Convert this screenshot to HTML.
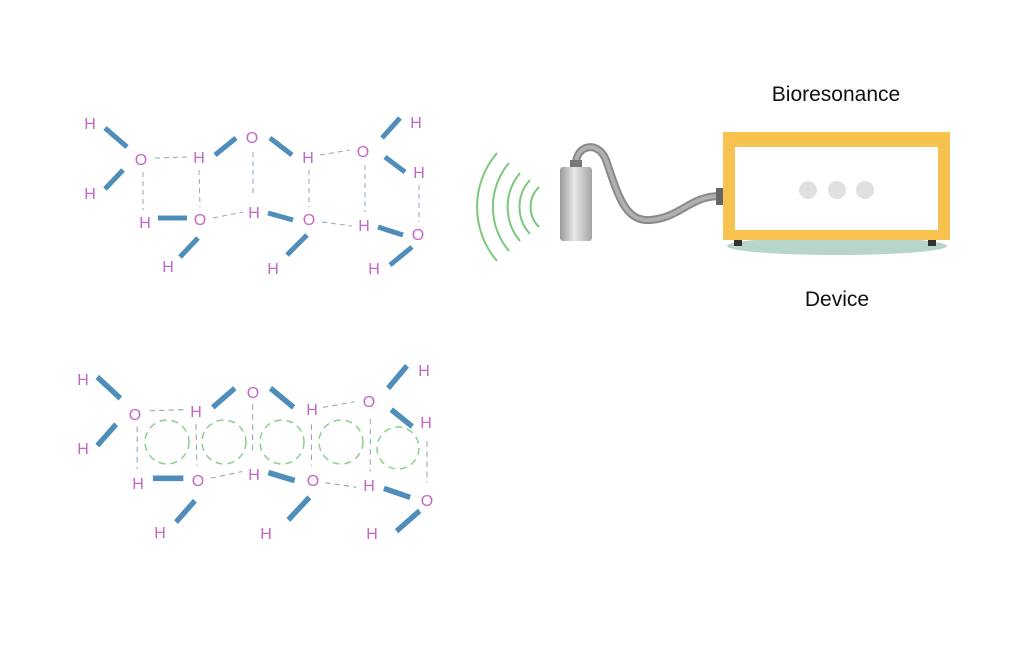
<!DOCTYPE html>
<html><head><meta charset="utf-8"><style>
html,body{margin:0;padding:0;background:#fff;width:1024px;height:672px;overflow:hidden}
svg text{font-family:"Liberation Sans","DejaVu Sans",sans-serif}
.at{fill:#c468c8;font-size:16px;text-anchor:middle}
.b{stroke:#4f8dbb;stroke-width:5;stroke-linecap:butt}
.d{stroke:#8fa8bf;stroke-width:1;stroke-dasharray:5,4;fill:none}
.w{stroke:#7cc77c;stroke-width:2;fill:none}
.c{stroke:#8fcf8f;stroke-width:1.5;stroke-dasharray:7,5;fill:none}
</style></head><body>
<svg width="1024" height="672" viewBox="0 0 1024 672" xmlns="http://www.w3.org/2000/svg">
<defs>
<g id="mol">
<g class="b">
<line x1="105" y1="128" x2="127" y2="147"/>
<line x1="123" y1="170" x2="105" y2="189"/>
<line x1="215" y1="155" x2="236" y2="138"/>
<line x1="270" y1="138" x2="292" y2="155"/>
<line x1="382" y1="138" x2="400" y2="118"/>
<line x1="385" y1="157" x2="405" y2="172"/>
<line x1="158" y1="218" x2="187" y2="218"/>
<line x1="198" y1="238" x2="180" y2="257"/>
<line x1="268" y1="213" x2="293" y2="220"/>
<line x1="307" y1="235" x2="287" y2="255"/>
<line x1="378" y1="227" x2="403" y2="235"/>
<line x1="412" y1="247" x2="390" y2="265"/>
</g>
<g class="d">
<line x1="155" y1="158" x2="188" y2="157"/>
<line x1="143" y1="172" x2="143" y2="210"/>
<line x1="199" y1="170" x2="200" y2="207"/>
<line x1="253" y1="152" x2="253" y2="195"/>
<line x1="309" y1="170" x2="309" y2="207"/>
<line x1="320" y1="155" x2="350" y2="150"/>
<line x1="365" y1="165" x2="365" y2="212"/>
<line x1="419" y1="185" x2="419" y2="222"/>
<line x1="213" y1="218" x2="243" y2="212"/>
<line x1="322" y1="222" x2="352" y2="226"/>
</g>
</g>
<g id="lbl">
<text class="at" x="90" y="129">H</text>
<text class="at" x="141" y="165">O</text>
<text class="at" x="90" y="199">H</text>
<text class="at" x="199" y="163">H</text>
<text class="at" x="252" y="143">O</text>
<text class="at" x="308" y="163">H</text>
<text class="at" x="363" y="157">O</text>
<text class="at" x="416" y="128">H</text>
<text class="at" x="419" y="178">H</text>
<text class="at" x="145" y="228">H</text>
<text class="at" x="200" y="225">O</text>
<text class="at" x="254" y="218">H</text>
<text class="at" x="309" y="225">O</text>
<text class="at" x="364" y="231">H</text>
<text class="at" x="418" y="240">O</text>
<text class="at" x="168" y="272">H</text>
<text class="at" x="273" y="274">H</text>
<text class="at" x="374" y="274">H</text>
</g>
</defs>
<use href="#mol"/>
<use href="#lbl"/>
<g transform="matrix(1.05,0,0,1.125,-13,233)"><use href="#mol"/></g>
<g transform="translate(-6,256)">
<text class="at" x="89" y="129">H</text>
<text class="at" x="141" y="164">O</text>
<text class="at" x="89" y="198">H</text>
<text class="at" x="202" y="161">H</text>
<text class="at" x="259" y="142">O</text>
<text class="at" x="318" y="159">H</text>
<text class="at" x="375" y="151">O</text>
<text class="at" x="430" y="120">H</text>
<text class="at" x="432" y="172">H</text>
<text class="at" x="144" y="233">H</text>
<text class="at" x="204" y="230">O</text>
<text class="at" x="260" y="224">H</text>
<text class="at" x="319" y="230">O</text>
<text class="at" x="375" y="235">H</text>
<text class="at" x="433" y="250">O</text>
<text class="at" x="166" y="282">H</text>
<text class="at" x="272" y="283">H</text>
<text class="at" x="378" y="283">H</text>
</g>
<circle class="c" cx="167" cy="442" r="22"/>
<circle class="c" cx="224" cy="442" r="22"/>
<circle class="c" cx="282" cy="442" r="22"/>
<circle class="c" cx="341" cy="442" r="22"/>
<circle class="c" cx="398" cy="448" r="21"/>
<!-- waves -->
<g class="w">
<path d="M539 187 A28 28 0 0 0 539 227"/>
<path d="M530 180 A40 40 0 0 0 530 234"/>
<path d="M520 173 A53 53 0 0 0 520 241"/>
<path d="M509 163 A68 68 0 0 0 509 251"/>
<path d="M497 153 A83 83 0 0 0 497 261"/>
</g>
<!-- cable -->
<path d="M576 164 C576 145,598 140,606 160 C618 195,625 222,650 220 C680 218,690 196,720 196" stroke="#8a8a8a" stroke-width="8" fill="none"/>
<path d="M576 164 C576 145,598 140,606 160 C618 195,625 222,650 220 C680 218,690 196,720 196" stroke="#b0b0b0" stroke-width="4" fill="none"/>
<rect x="716" y="188" width="9" height="17" fill="#666"/>
<!-- probe -->
<linearGradient id="cy" x1="0" x2="1"><stop offset="0" stop-color="#9a9a9a"/><stop offset="0.45" stop-color="#e8e8e8"/><stop offset="1" stop-color="#a5a5a5"/></linearGradient>
<rect x="570" y="160" width="12" height="9" fill="#777"/>
<rect x="560" y="167" width="32" height="74" rx="3" fill="url(#cy)"/>
<!-- device -->
<ellipse cx="837" cy="246" rx="110" ry="9" fill="#b7d5ca"/>
<rect x="734" y="238" width="8" height="8" fill="#333"/>
<rect x="928" y="238" width="8" height="8" fill="#333"/>
<rect x="723" y="132" width="227" height="108" fill="#f8c24f"/>
<rect x="735" y="147" width="203" height="83" fill="#fff"/>
<circle cx="808" cy="190" r="9" fill="#e0e0e0"/>
<circle cx="837" cy="190" r="9" fill="#e0e0e0"/>
<circle cx="865" cy="190" r="9" fill="#e0e0e0"/>
<text x="836" y="101" font-size="21" fill="#111" text-anchor="middle">Bioresonance</text>
<text x="837" y="306" font-size="21" fill="#111" text-anchor="middle">Device</text>
</svg>
</body></html>
